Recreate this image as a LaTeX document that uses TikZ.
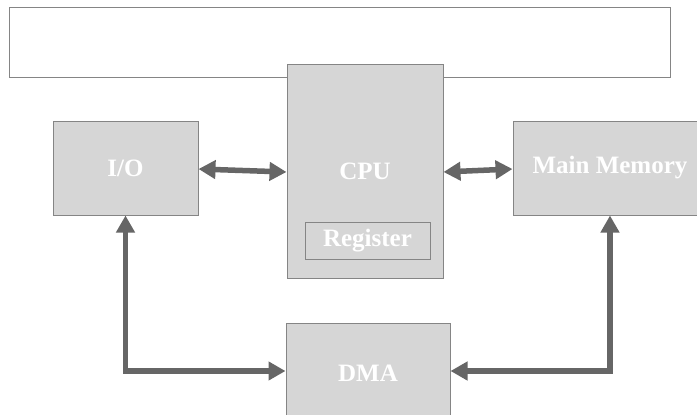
\documentclass[tikz,border=0pt]{standalone}
\usepackage{fontspec}
\setmainfont{Liberation Serif}
\usetikzlibrary{arrows.meta}
\definecolor{boxfill}{HTML}{D6D6D6}
\definecolor{boxline}{HTML}{858585}
\definecolor{arrcol}{HTML}{666666}
\begin{document}
\begin{tikzpicture}[x=1pt,y=-1pt,
  box/.style={draw=boxline,line width=1pt,fill=boxfill,rectangle,inner sep=0pt,
    text=white,font=\fontsize{25}{29}\selectfont\bfseries},
  arr/.style={draw=arrcol,line width=5.5pt,
    {Triangle[length=17pt,width=18pt]}-{Triangle[length=17pt,width=18pt]}}]
\useasboundingbox (0,0) rectangle (697,415);
\clip (0,0) rectangle (697,415);
\node[draw=boxline,line width=1pt,fill=white,minimum width=661pt,minimum height=70pt,inner sep=0pt] (top) at (339.5,42) {};
\node[box,minimum width=156pt,minimum height=214pt] (cpu) at (365,171) {CPU};
\node[box,minimum width=125pt,minimum height=37pt] (reg) at (367.5,240.5) {Register};
\node[box,minimum width=145pt,minimum height=94pt] (io) at (125.5,168) {I/O};
\node[box,minimum width=194pt,minimum height=94pt] (mm) at (610,168) {Main Memory};
\node[box,minimum width=164pt,minimum height=100pt] (dma) at (368,373) {DMA};
\draw[arr] ([yshift=-1pt]io.east) -- ([yshift=-4pt]cpu.west |- io.east);
\draw[arr] ([yshift=-4pt]cpu.east |- mm.west) -- ([yshift=-1pt]mm.west);
\draw[arr] (io.south) |- ([yshift=2pt]dma.west);
\draw[arr] (mm.south) |- ([yshift=2pt]dma.east);
\end{tikzpicture}
\end{document}
